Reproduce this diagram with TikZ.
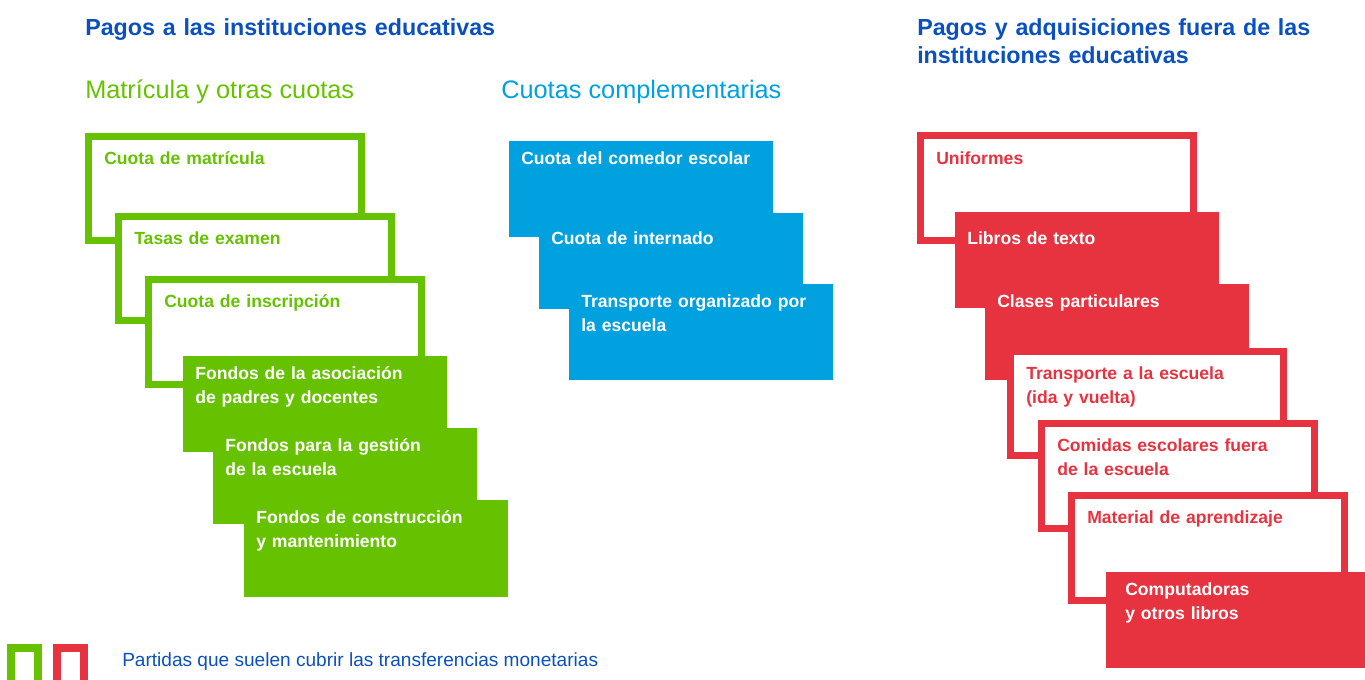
\documentclass[tikz,border=0pt]{standalone}
\usepackage{fontspec}
\setmainfont{Liberation Sans}
\definecolor{grn}{HTML}{66C200}
\definecolor{blu}{HTML}{00A1DE}
\definecolor{rd}{HTML}{E73340}
\definecolor{dblu}{HTML}{0B50BF}

\begin{document}
\begin{tikzpicture}[x=0.75pt,y=-0.75pt,every node/.style={inner sep=0pt},
    cardline/.style={line width=5.25pt},
    card o/.style={cardline,draw=#1,fill=white},
    card f/.style={cardline,draw=#1,fill=#1},
    card F/.style={card f=#1},
    txt/.style={anchor=base west,text width=180pt,align=left,
      font=\bfseries\fontsize{13.2}{18}\selectfont},
    txt o/.style={txt,text=#1,xshift=5.25pt},
    txt f/.style={txt,text=white},
    txt F/.style={txt,text=white,xshift=5.25pt},
    head/.style={anchor=base west,text width=320pt,align=left,text=dblu,
      font=\bfseries\fontsize{17.45}{21}\selectfont},
    sub/.style={anchor=base west,font=\fontsize{19}{22}\selectfont}]
    \useasboundingbox(0,0)rectangle(1365,680);
    % titles
    \node[head](h1)at(85,36){Pagos a las instituciones educativas};
    \node[head](h2)at(917,36){Pagos y adquisiciones fuera de las\\instituciones educativas};
    \node[sub,text=grn](s1)at(85,99){Matrícula y otras cuotas};
    \node[sub,text=blu](s2)at(501,99){Cuotas complementarias};
    % green column
    \foreach \x/\y/\w/\h/\k/\ty/\t [count=\i] in {85/133/280/111/o/165/{Cuota de matrícula},
      115/213/280/111/o/245/{Tasas de examen},145/276/280/112/o/308/{Cuota de inscripción},
      183/356/264/96/f/380/{Fondos de la asociación\\de padres y docentes},
      213/428/264/96/f/452/{Fondos para la gestión\\de la escuela},
      244/500/264/97/f/524/{Fondos de construcción\\y mantenimiento}}{
      \draw[card \k=grn](\x+3.5,\y+3.5)rectangle(\x+\w-3.5,\y+\h-3.5);
      \node[txt \k=grn](g\i)at(\x+12,\ty){\t};
    }
    % blue column
    \foreach \x/\y/\w/\h/\k/\ty/\t [count=\i] in {509/141/264/96/f/165/{Cuota del comedor escolar},
      539/213/264/96/f/245/{Cuota de internado},
      569/284/264/96/f/308/{Transporte organizado por\\la escuela}}{
      \draw[card \k=blu](\x+3.5,\y+3.5)rectangle(\x+\w-3.5,\y+\h-3.5);
      \node[txt \k=blu](b\i)at(\x+12,\ty){\t};
    }
    % red column
    \foreach \x/\y/\w/\h/\k/\ty/\t [count=\i] in {917/132/280/112/o/165/{Uniformes},
      955/212/264/96/f/245/{Libros de texto},985/284/264/96/f/308/{Clases particulares},
      1007/348/280/111/o/380/{Transporte a la escuela\\(ida y vuelta)},
      1038/420/280/112/o/452/{Comidas escolares fuera\\de la escuela},
      1068/492/280/112/o/524/{Material de aprendizaje},
      1106/572/264/96/F/596/{Computadoras\\y otros libros}}{
      \draw[card \k=rd](\x+3.5,\y+3.5)rectangle(\x+\w-3.5,\y+\h-3.5);
      \node[txt \k=rd](r\i)at(\x+12,\ty){\t};
    }
    % legend
    \draw[line width=6pt,draw=grn,fill=white](11,648)rectangle(38,684);
    \draw[line width=6pt,draw=rd,fill=white](57,648)rectangle(84,684);
    \node[anchor=base west,text=dblu,font=\fontsize{14.3}{16}\selectfont](leg)at(122,667)
      {Partidas que suelen cubrir las transferencias monetarias};
  \end{tikzpicture}
\end{document}
